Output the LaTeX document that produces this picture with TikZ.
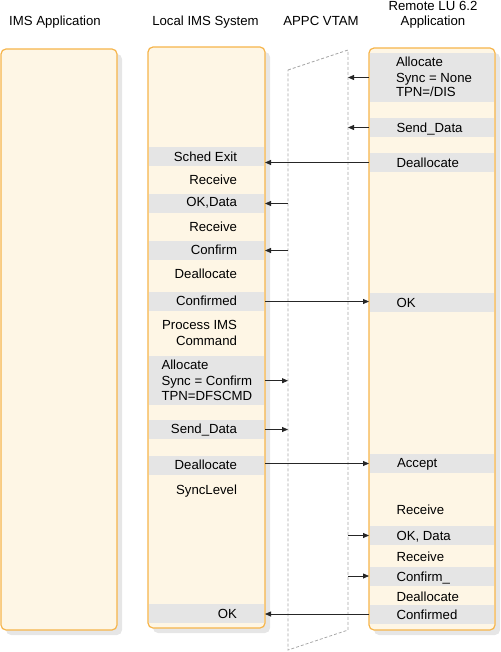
\documentclass[tikz,border=0pt]{standalone}
\usepackage{fontspec}
\setmainfont{Liberation Sans}
\usetikzlibrary{arrows.meta,shadows}
\definecolor{boxfill}{HTML}{FEF6E5}
\definecolor{boxline}{HTML}{F6B44A}
\definecolor{bandgrey}{HTML}{E5E5E5}
\definecolor{shadowgrey}{HTML}{E6E6E6}
\definecolor{vtamgrey}{HTML}{A8A8A8}
\begin{document}
\begin{tikzpicture}[x=1pt,y=-1pt,
  sysbox/.style={draw=boxline, line width=1.2pt, fill=boxfill, rounded corners=5pt,
    inner sep=0pt, outer sep=0pt,
    drop shadow={shadow xshift=5pt, shadow yshift=-5pt, fill=shadowgrey, opacity=1}},
  band/.style={fill=bandgrey, draw=none, inner sep=0pt, outer sep=0pt, minimum height=19pt},
  lband/.style={band, minimum width=115.8pt},
  rband/.style={band, minimum width=124.8pt},
  lbl/.style={font=\fontsize{13.2}{16}\selectfont, inner sep=0pt, outer sep=0pt,
    text height=9.5pt, text depth=0pt},
  arr/.style={draw=black!85, line width=0.8pt, -{Triangle[length=6pt,width=5pt]}},
  vtam/.style={draw=vtamgrey, line width=0.8pt, dash pattern=on 3pt off 2pt}]
\useasboundingbox (0,0) rectangle (500,652);

% titles
\node[lbl] (tIms) at (55,21) {IMS Application};
\node[lbl] (tLocal) at (205.5,21) {Local IMS System};
\node[lbl] (tVtam) at (321,21) {APPC VTAM};
\node[lbl] (tRemote1) at (433,5.5) {Remote LU 6.2};
\node[lbl] (tRemote2) at (433,21) {Application};

% system boxes
\node[sysbox, minimum width=116pt, minimum height=581pt] (imsbox) at (59,339.5) {};
\node[sysbox, minimum width=117pt, minimum height=581pt] (lbox) at (206.5,337.5) {};
\node[sysbox, minimum width=126pt, minimum height=582pt] (rbox) at (432,339) {};

% local bands
\node[lband] (lSched) at (206.5,157) {};
\node[lband] (lOKData) at (206.5,203.5) {};
\node[lband] (lConfirm) at (206.5,250.5) {};
\node[lband] (lConfirmed) at (206.5,301.5) {};
\node[lband, minimum height=49pt] (lAlloc) at (206.5,380.5) {};
\node[lband] (lSend) at (206.5,429.5) {};
\node[lband] (lDealloc) at (206.5,465.5) {};
\node[lband] (lOK) at (206.5,613.5) {};

% remote bands
\node[rband, minimum height=49pt] (rAlloc) at (432,77.5) {};
\node[rband] (rSend) at (432,127.5) {};
\node[rband] (rDealloc) at (432,162.5) {};
\node[rband] (rOK) at (432,302.5) {};
\node[rband] (rAccept) at (432,463.5) {};
\node[rband] (rOKData) at (432,535.5) {};
\node[rband] (rConfirm) at (432,576) {};
\node[rband] (rConfirmed) at (432,614) {};

% VTAM
\coordinate (vtl) at (288,70);
\coordinate (vtr) at (348,50);
\coordinate (vbr) at (348,630);
\coordinate (vbl) at (288,650);
\draw[vtam] (vtl) -- (vtr) -- (vbr) -- (vbl) -- cycle;

% local texts
\node[lbl, anchor=east] (tSched) at (237,157) {Sched Exit};
\node[lbl, anchor=east] (tRecv1) at (237,180) {Receive};
\node[lbl, anchor=east] (tOKData) at (237,202) {OK,Data};
\node[lbl, anchor=east] (tRecv2) at (237,227) {Receive};
\node[lbl, anchor=east] (tConfirm) at (237,250) {Confirm};
\node[lbl, anchor=east] (tDealloc1) at (237,273.5) {Deallocate};
\node[lbl, anchor=east] (tConfirmed) at (237,300.5) {Confirmed};
\node[lbl, anchor=east] (tProc1) at (237,325) {Process IMS};
\node[lbl, anchor=east] (tProc2) at (237,341) {Command};
\node[lbl, anchor=west] (tAllocL) at (161.5,364.5) {Allocate};
\node[lbl, anchor=west] (tSyncC) at (161.5,380.7) {Sync = Confirm};
\node[lbl, anchor=west] (tTpnL) at (161.5,396) {TPN=DFSCMD};
\node[lbl, anchor=east] (tSendL) at (237,429) {Send\_Data};
\node[lbl, anchor=east] (tDealloc2) at (237,465) {Deallocate};
\node[lbl, anchor=east] (tSyncLvl) at (237,490) {SyncLevel};
\node[lbl, anchor=east] (tOKL) at (237,614) {OK};

% remote texts
\node[lbl, anchor=west] (tAllocR) at (396,61.5) {Allocate};
\node[lbl, anchor=west] (tSyncN) at (396,77.3) {Sync = None};
\node[lbl, anchor=west] (tTpnR) at (396,92) {TPN=/DIS};
\node[lbl, anchor=west] (tSendR) at (396.5,127.7) {Send\_Data};
\node[lbl, anchor=west] (tDeallocR1) at (396.5,162.3) {Deallocate};
\node[lbl, anchor=west] (tOKR) at (396.5,302.7) {OK};
\node[lbl, anchor=west] (tAccept) at (397,463) {Accept};
\node[lbl, anchor=west] (tRecvR1) at (396.5,510) {Receive};
\node[lbl, anchor=west] (tOKDataR) at (396.5,535.7) {OK, Data};
\node[lbl, anchor=west] (tRecvR2) at (396.5,556.7) {Receive};
\node[lbl, anchor=west] (tConfirmR) at (396.5,576.7) {Confirm\_};
\node[lbl, anchor=west] (tDeallocR2) at (396.5,596.7) {Deallocate};
\node[lbl, anchor=west] (tConfirmedR) at (396.5,615) {Confirmed};

% arrows
\draw[arr] (rbox.west |- rAlloc) -- (vtr |- rAlloc);
\draw[arr] (rbox.west |- rSend) -- (vtr |- rSend);
\draw[arr] (rbox.west |- rDealloc) -- (lbox.east |- rDealloc);
\draw[arr] (vtl |- lOKData) -- (lbox.east |- lOKData);
\draw[arr] (vtl |- lConfirm) -- (lbox.east |- lConfirm);
\draw[arr] (lbox.east |- lConfirmed) -- (rbox.west |- lConfirmed);
\draw[arr] (lbox.east |- tSyncC) -- (vtl |- tSyncC);
\draw[arr] (lbox.east |- lSend) -- (vtl |- lSend);
\draw[arr] (lbox.east |- rAccept) -- (rbox.west |- rAccept);
\draw[arr] (vtr |- rOKData) -- (rbox.west |- rOKData);
\draw[arr] (vtr |- rConfirm) -- (rbox.west |- rConfirm);
\draw[arr] (rbox.west |- rConfirmed) -- (lbox.east |- rConfirmed);
\end{tikzpicture}
\end{document}
